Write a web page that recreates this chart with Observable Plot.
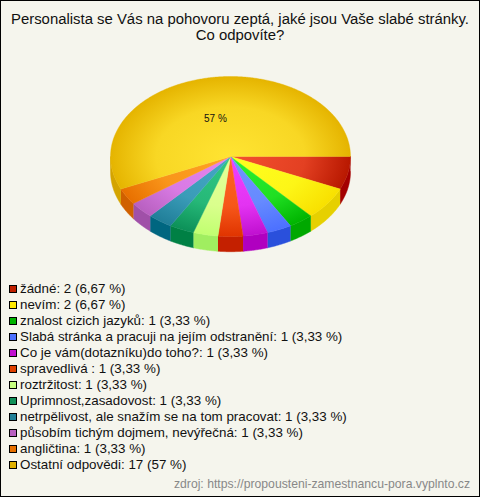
<!DOCTYPE html>
<html lang="cs">
<head>
<meta charset="utf-8">
<script src="https://cdn.jsdelivr.net/npm/d3@7"></script>
<script src="https://cdn.jsdelivr.net/npm/@observablehq/plot@0.6"></script>
<style>
html,body{margin:0;padding:0;background:#f5f5ed}
#frame{position:relative;width:480px;height:497px;box-sizing:border-box;background:#f5f5ed;overflow:hidden;
  box-shadow:inset 0 0 0 1px #000;font-family:"Liberation Sans",Arial,sans-serif;color:#111}
#title{position:absolute;left:0;top:12px;width:480px;text-align:center;font-size:14.9px;line-height:15.5px}
#chart{position:absolute;left:0;top:50px}
#chart svg{display:block}
#legend{position:absolute;left:9px;top:281px;font-size:13.36px;line-height:16px}
.row{height:16px;white-space:nowrap;display:flex;align-items:center}
.sw{display:inline-block;width:6px;height:6px;border:1px solid #000;margin-right:3px;flex:none}
#source{position:absolute;right:10px;top:477px;font-size:12.2px;line-height:15px;color:#888}
</style>
</head>
<body>
<div id="frame">
  <div id="title">Personalista se Vás na pohovoru zeptá, jaké jsou Vaše slabé stránky.<br>Co odpovíte?</div>
  <div id="chart"></div>
  <div id="legend"></div>
  <div id="source">zdroj: https://propousteni-zamestnancu-pora.vyplnto.cz</div>
</div>
<script>
const categories = ["žádné","nevím","znalost cizich jazyků","Slabá stránka a pracuji na jejím odstranění","Co je vám(dotazníku)do toho?","spravedlivá ","roztržitost","Uprimnost,zasadovost","netrpělivost, ale snažím se na tom pracovat","působím tichým dojmem, nevýřečná","angličtina","Ostatní odpovědi"];
const counts = [2,2,1,1,1,1,1,1,1,1,1,17];
const shares = ["6,67 %","6,67 %","3,33 %","3,33 %","3,33 %","3,33 %","3,33 %","3,33 %","3,33 %","3,33 %","3,33 %","57 %"];
const inner = ["#f4502f","#ffff20","#2cf030","#7094ff","#f040ff","#ff6424","#e4ff98","#30c884","#44a8c4","#e484f0","#ffa424","#ffe432"];
const outer = ["#b81800","#f8e000","#00b400","#4c70ff","#c010d0","#e03400","#c0ff70","#0c9058","#207e98","#b860c0","#e87000","#e5b400"];
const sides = ["#a40000","#e6d000","#00a800","#2a50dc","#b000c0","#c42000","#a0ee60","#008044","#006680","#a050a8","#d06000","#d4a400"];
const swatch = ["#c02000","#ffe800","#00b400","#4c70ff","#c010d0","#e04000","#c8ff80","#109058","#208098","#b860c0","#e87000","#e0b000"];

const DEPTH = 0.19;
const TAU = Math.PI * 2;
const arcs = d3.pie().sort(null).startAngle(0).endAngle(TAU)(counts);

function arcPoints(a0, a1, dy = 0) {
  const n = Math.max(2, Math.ceil((a1 - a0) / 0.01));
  return d3.range(n + 1).map(i => {
    const a = a0 + (a1 - a0) * i / n;
    return {x: Math.cos(a), y: Math.sin(a) + dy};
  });
}
const topFace = a => [{x: 0, y: 0}, ...arcPoints(a.startAngle, a.endAngle), {x: 0, y: 0}];
function sideFace(a) {
  const a0 = a.startAngle, a1 = Math.min(a.endAngle, Math.PI);
  if (a0 >= a1) return null;
  return [...arcPoints(a0, a1), ...arcPoints(a0, a1, DEPTH).reverse()];
}

const defsMark = (index, scales) => {
  const cx = scales.x(0), cy = scales.y(0);
  const rx = scales.x(1) - cx, ry = scales.y(1) - cy;
  const ns = "http://www.w3.org/2000/svg";
  const defs = document.createElementNS(ns, "defs");
  inner.forEach((c, i) => {
    const g = document.createElementNS(ns, "radialGradient");
    g.setAttribute("id", "g" + i);
    g.setAttribute("gradientUnits", "userSpaceOnUse");
    g.setAttribute("cx", 0); g.setAttribute("cy", 0); g.setAttribute("r", 1);
    g.setAttribute("gradientTransform", `translate(${cx} ${cy}) scale(${rx} ${ry})`);
    const midColor = d3.interpolateRgb(c, outer[i])(0.28);
    [[0, c], [0.62, midColor], [1, outer[i]]].forEach(([o, col]) => {
      const s = document.createElementNS(ns, "stop");
      s.setAttribute("offset", o); s.setAttribute("stop-color", col);
      g.appendChild(s);
    });
    defs.appendChild(g);
  });
  return defs;
};

const mid = arcs[11];
const midAngle = (mid.startAngle + mid.endAngle) / 2;

const plot = Plot.plot({
  width: 480, height: 220,
  margin: 0,
  style: {background: "transparent"},
  x: {domain: [-1, 1], range: [110, 350], axis: null},
  y: {domain: [-1, 1], range: [26, 186], axis: null},
  marks: [
    defsMark,
    ...arcs.map((a, i) => {
      const pts = sideFace(a);
      return pts ? Plot.line(pts, {x: "x", y: "y", fill: sides[i], stroke: sides[i], strokeWidth: 0.5}) : null;
    }),
    ...arcs.map((a, i) => Plot.line(topFace(a), {x: "x", y: "y", fill: `url(#g${i})`, stroke: `url(#g${i})`, strokeWidth: 0.4})),
    Plot.text([{x: Math.cos(midAngle) * 0.486, y: Math.sin(midAngle) * 0.486}], {
      x: "x", y: "y", dx: -3, text: () => "57 %", fontSize: 10, fill: "#111",
      fontFamily: "Liberation Sans, Arial, sans-serif"
    })
  ]
});
document.getElementById("chart").appendChild(plot);

const legend = d3.select("#legend");
categories.forEach((c, i) => {
  const row = legend.append("div").attr("class", "row");
  row.append("span").attr("class", "sw").style("background", swatch[i]);
  row.append("span").text(`${c}: ${counts[i]} (${shares[i]})`);
});
</script>
</body>
</html>
